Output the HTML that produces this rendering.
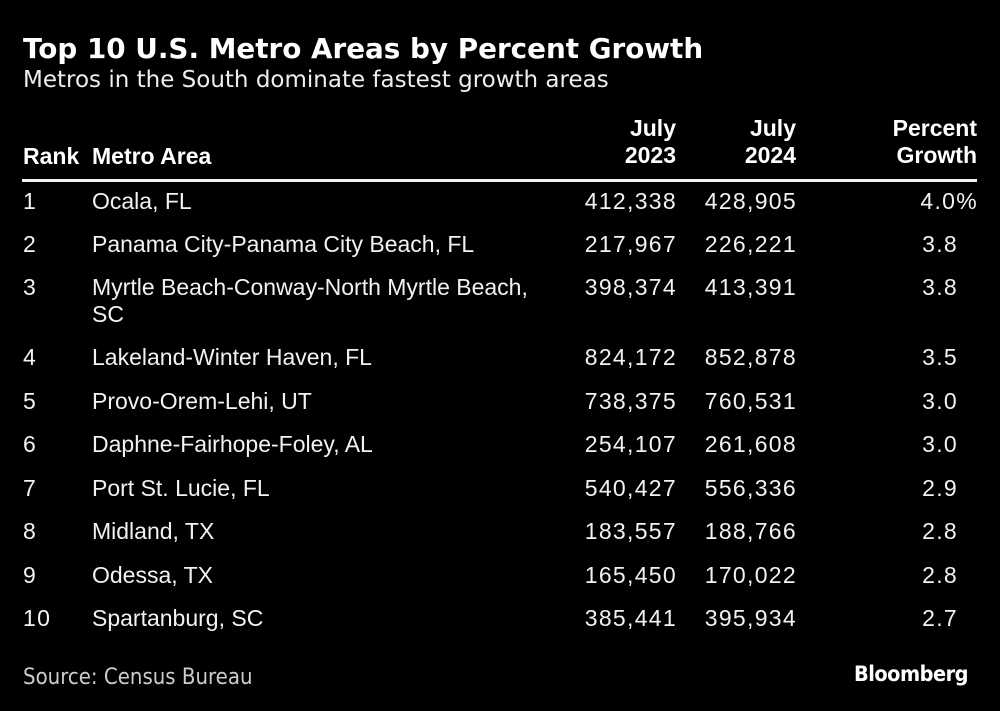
<!DOCTYPE html>
<html><head><meta charset="utf-8"><style>
html,body{margin:0;padding:0;background:#000;}
#root{position:relative;width:1000px;height:711px;background:#000;color:#f2f2f2;overflow:hidden;font-family:"Liberation Sans",sans-serif;}
.a{position:absolute;white-space:nowrap;line-height:1;}
.title{left:23px;top:35px;font-family:"DejaVu Sans",sans-serif;font-weight:bold;font-size:27.8px;color:#fff;}
.sub{left:23px;top:69px;font-family:"DejaVu Sans",sans-serif;font-size:23px;color:#eee;}
.h{font-weight:bold;font-size:23px;color:#fff;}
.c{font-size:23px;}
.n{letter-spacing:1.3px;}
.r{text-align:right;}
#rule{position:absolute;left:22px;top:179px;width:955px;height:3px;background:#f2f2f2;}
.src{left:23px;top:667px;font-family:"DejaVu Sans Condensed","DejaVu Sans",sans-serif;font-size:22px;color:#ccc;}
.logo{right:32px;top:664px;font-family:"DejaVu Sans Condensed","DejaVu Sans",sans-serif;font-weight:bold;font-size:21.5px;color:#fff;letter-spacing:-0.5px;}
</style></head><body>
<div id="root">
<div class="a title">Top 10 U.S. Metro Areas by Percent Growth</div>
<div class="a sub">Metros in the South dominate fastest growth areas</div>
<div class="a h" style="left:23px;top:145px">Rank</div>
<div class="a h" style="left:92px;top:145px">Metro Area</div>
<div class="a h r" style="right:324px;top:115px;line-height:27px;white-space:normal">July<br>2023</div>
<div class="a h r" style="right:204px;top:115px;line-height:27px;white-space:normal">July<br>2024</div>
<div class="a h r" style="right:23px;top:115px;line-height:27px;white-space:normal">Percent<br>Growth</div>
<div id="rule"></div>
<div id="rows"></div>
<div class="a src">Source: Census Bureau</div>
<div class="a logo">Bloomberg</div>
</div>
<script>
const ranks=["1","2","3","4","5","6","7","8","9","10"];
const metros=["Ocala, FL","Panama City-Panama City Beach, FL","Myrtle Beach-Conway-North Myrtle Beach,|SC","Lakeland-Winter Haven, FL","Provo-Orem-Lehi, UT","Daphne-Fairhope-Foley, AL","Port St. Lucie, FL","Midland, TX","Odessa, TX","Spartanburg, SC"];
const pop2023=["412,338","217,967","398,374","824,172","738,375","254,107","540,427","183,557","165,450","385,441"];
const pop2024=["428,905","226,221","413,391","852,878","760,531","261,608","556,336","188,766","170,022","395,934"];
const growth=["4.0%","3.8","3.8","3.5","3.0","3.0","2.9","2.8","2.8","2.7"];
const rowTops=[190,233,276,346,390,433,477,520,564,607];
const host=document.getElementById('rows');
function cell(txt,cls,style,name){
  const d=document.createElement('div');
  d.className='a c '+cls;
  Object.assign(d.style,style);
  
  
  d.innerHTML=txt;
  host.appendChild(d);
}
ranks.forEach((rk,i)=>{
  const t=rowTops[i]+'px';
  cell(rk,'n',{left:'23px',top:t},'rank-cell');
  const m=metros[i].split('|');
  cell(m.join('<br>'),'',{left:'92px',top:t,lineHeight:'27px',marginTop:'-2px'},'metro-cell');
  cell(pop2023[i],'r n',{right:'323px',top:t},'pop-2023-cell');
  cell(pop2024[i],'r n',{right:'203px',top:t},'pop-2024-cell');
  cell(growth[i],'r n',{right:(i===0?'22px':'42px'),top:t},'growth-cell');
});
</script>
</body></html>
